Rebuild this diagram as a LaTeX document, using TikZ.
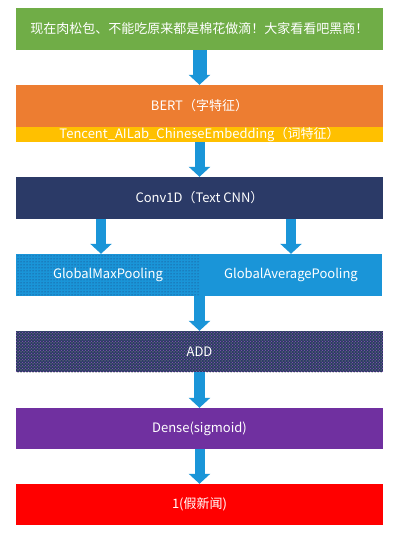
\documentclass[tikz,border=0pt]{standalone}
\usepackage{fontspec}
\setmainfont{Noto Sans CJK SC}
\usetikzlibrary{arrows.meta,patterns}
\definecolor{inputgreen}{HTML}{70AD47}
\definecolor{bertorange}{HTML}{ED7D31}
\definecolor{embyellow}{HTML}{FFC000}
\definecolor{convnavy}{HTML}{2B3A67}
\definecolor{poolblue}{HTML}{1A95D8}
\definecolor{pooldark}{HTML}{1A3570}
\definecolor{densepurple}{HTML}{7030A0}
\definecolor{outred}{HTML}{FF0000}
\definecolor{arrowblue}{HTML}{1A95D8}
\tikzstyle{layer} = [rectangle,inner sep=0pt,minimum width=367pt,minimum height=42pt,text=white,font=\fontsize{13}{15}\selectfont]
\tikzstyle{blockarrow} = [line width=11pt,draw=arrowblue,-{Triangle[width=21pt,length=10pt]}]

\begin{document}
\begin{tikzpicture}[x=1pt,y=-1pt]
	\def \cx {199.5}
	\fill[white] (0,0) rectangle (406,541);
	\useasboundingbox (0,0) rectangle (406,541);
	% layers, top to bottom
	\node (input) at (\cx,29) [layer,fill=inputgreen] {现在肉松包、不能吃原来都是棉花做滴！大家看看吧黑商！};
	\node (bert) at (\cx,106) [layer,fill=bertorange] {BERT（字特征）};
	\node (emb) at (\cx,134.5) [layer,fill=embyellow,minimum height=15pt] {Tencent\_AILab\_ChineseEmbedding（词特征）};
	\node (conv) at (\cx,198) [layer,fill=convnavy] {Conv1D（Text CNN）};
	\node (maxpool) at (108,275) [layer,minimum width=184pt,fill=poolblue,
		postaction={pattern=dots,pattern color=pooldark}] {};
	\node at (maxpool) [text=white,font=\fontsize{13}{15}\selectfont] {GlobalMaxPooling};
	\node (avgpool) at (291,275) [layer,minimum width=182pt,fill=poolblue] {GlobalAveragePooling};
	\node (add) at (\cx,351.5) [layer,minimum height=41pt,fill=convnavy,
		postaction={pattern=dots,pattern color=inputgreen},
		postaction={pattern=crosshatch dots,pattern color=densepurple!80!white}] {};
	\node at (add) [text=white,font=\fontsize{13}{15}\selectfont] {ADD};
	\node (dense) at (\cx,428.5) [layer,minimum height=41pt,fill=densepurple] {Dense(sigmoid)};
	\node (out) at (\cx,504.5) [layer,minimum height=41pt,fill=outred] {1(假新闻)};
	% arrows
	\draw [blockarrow,line width=14pt] (input) -- (bert);
	\draw [blockarrow,line width=10pt] (emb) -- (conv);
	\draw [blockarrow,line width=10pt] ([xshift=-7pt]maxpool.north |- conv.south) -- ([xshift=-7pt]maxpool.north);
	\draw [blockarrow,line width=10pt] (avgpool.north |- conv.south) -- (avgpool.north);
	\draw [blockarrow] (add.north |- maxpool.south) -- (add.north);
	\draw [blockarrow] (add) -- (dense);
	\draw [blockarrow,line width=10pt] (dense) -- (out);
\end{tikzpicture}
\end{document}
